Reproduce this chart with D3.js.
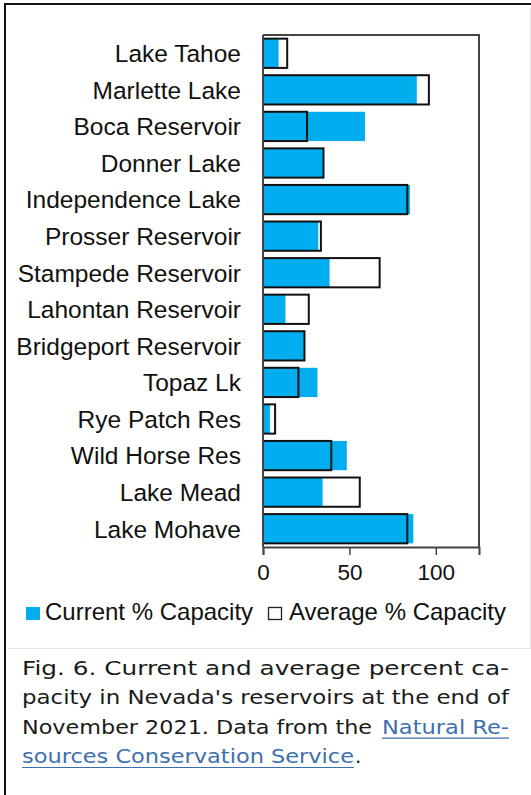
<!DOCTYPE html>
<html>
<head>
<meta charset="utf-8">
<script src="https://cdn.jsdelivr.net/npm/d3@7"></script>
<style>
  body { margin: 0; background: #fff; }
  svg { display: block; }
</style>
</head>
<body>
<svg width="531" height="795"></svg>
<script>
// reservoir data (% of capacity)
const reservoirs = ["Lake Tahoe", "Marlette Lake", "Boca Reservoir", "Donner Lake",
  "Independence Lake", "Prosser Reservoir", "Stampede Reservoir", "Lahontan Reservoir",
  "Bridgeport Reservoir", "Topaz Lk", "Rye Patch Res", "Wild Horse Res", "Lake Mead", "Lake Mohave"];
const currentPct = [9, 89, 59, 35, 85, 32, 38.5, 13, 24, 31.5, 4, 48.5, 34.5, 87];
const averagePct = [14, 96, 25.5, 35, 83.5, 33.5, 67.5, 26.5, 24, 20.5, 7, 39.5, 56, 83.5];
const xTicks = [0, 50, 100];
const legendLabels = ["Current % Capacity", "Average % Capacity"];

const captionLines = [
  "Fig. 6. Current and average percent ca-",
  "pacity in Nevada's reservoirs at the end of"
];

const svg = d3.select("svg");
const blue = "#00aeef";

// outer page border + chart image frame
svg.append("rect").attr("x", 5).attr("y", 4).attr("width", 540).attr("height", 810)
  .attr("fill", "none").attr("stroke", "#111").attr("stroke-width", 2);
svg.append("line").attr("x1", 8).attr("x2", 531).attr("y1", 648.5).attr("y2", 648.5)
  .attr("stroke", "#e4e4e4");
svg.append("line").attr("x1", 530.5).attr("x2", 530.5).attr("y1", 8).attr("y2", 648)
  .attr("stroke", "#e4e4e4");

const plot = { left: 263, right: 479, top: 35, bottom: 547 };

const x = d3.scaleLinear().domain([0, 125]).range([plot.left, plot.right]);
const y = d3.scaleBand().domain(reservoirs).range([plot.top, plot.bottom])
  .paddingInner(0.2).paddingOuter(0.1);

const rows = reservoirs.map((name, i) => ({ name, cur: currentPct[i], avg: averagePct[i] }));

// frame (top + right)
svg.append("path")
  .attr("d", `M${plot.left},${plot.top}H${plot.right}V${plot.bottom}`)
  .attr("fill", "none").attr("stroke", "#444").attr("stroke-width", 2);

// current bars
svg.append("g").selectAll("rect").data(rows).join("rect")
  .attr("x", x(0))
  .attr("y", d => y(d.name))
  .attr("width", d => x(d.cur) - x(0))
  .attr("height", y.bandwidth())
  .attr("fill", blue);

// average outlines drawn on top
svg.append("g").selectAll("rect").data(rows).join("rect")
  .attr("x", x(0))
  .attr("y", d => y(d.name))
  .attr("width", d => x(d.avg) - x(0))
  .attr("height", y.bandwidth())
  .attr("fill", "none")
  .attr("stroke", "#111")
  .attr("stroke-width", 2);

// category labels
svg.append("g").selectAll("text").data(rows).join("text")
  .attr("x", 241)
  .attr("y", d => y(d.name) + y.bandwidth() / 2)
  .attr("dy", "0.36em")
  .attr("text-anchor", "end")
  .attr("font-family", "Liberation Sans, Arial, sans-serif")
  .attr("font-size", 24.5)
  .attr("fill", "#111")
  .text(d => d.name);

// y axis line
svg.append("line").attr("x1", plot.left).attr("x2", plot.left)
  .attr("y1", plot.top).attr("y2", plot.bottom)
  .attr("stroke", "#444").attr("stroke-width", 2);

// x axis
const xAxis = svg.append("g")
  .attr("transform", `translate(0,${plot.bottom})`)
  .call(d3.axisBottom(x).tickValues(xTicks).tickSizeOuter(0).tickSize(8).tickPadding(9));
xAxis.select(".domain").attr("stroke", "#444").attr("stroke-width", 2);
xAxis.selectAll(".tick line").attr("stroke", "#444").attr("stroke-width", 1.5);
xAxis.selectAll(".tick text")
  .attr("font-family", "Liberation Sans, Arial, sans-serif")
  .attr("font-size", 22.5)
  .attr("fill", "#111");

// legend
const legend = svg.append("g").attr("font-family", "Liberation Sans, Arial, sans-serif")
  .attr("font-size", 24).attr("fill", "#111");
legend.append("rect").attr("x", 26).attr("y", 607).attr("width", 14).attr("height", 13)
  .attr("fill", blue);
legend.append("text").attr("x", 45).attr("y", 620).text(legendLabels[0]);
legend.append("rect").attr("x", 268.5).attr("y", 607.5).attr("width", 13).attr("height", 12)
  .attr("fill", "none").attr("stroke", "#222").attr("stroke-width", 1.3);
legend.append("text").attr("x", 289).attr("y", 620).text(legendLabels[1]);

// caption
const cap = svg.append("g").attr("font-family", "DejaVu Sans, sans-serif")
  .attr("font-size", 20).attr("fill", "#1a1a1a");
const capLeft = 22, capRight = 509;
const linkColor = "#3d6fb0";

function capText(t, x0, y0, len, color) {
  const el = cap.append("text").attr("x", x0).attr("y", y0).text(t);
  if (len) el.attr("textLength", len).attr("lengthAdjust", "spacingAndGlyphs");
  if (color) {
    el.attr("fill", color);
    cap.append("line").attr("x1", x0).attr("x2", x0 + len)
      .attr("y1", y0 + 4.5).attr("y2", y0 + 4.5)
      .attr("stroke", color).attr("stroke-width", 1.2);
  }
  return el;
}

captionLines.forEach((t, i) => capText(t, capLeft, 675 + i * 29.3, capRight - capLeft));
capText("November 2021. Data from the", capLeft, 733.6, 350);
capText("Natural Re-", 382, 733.6, 127, linkColor);
capText("sources Conservation Service", capLeft, 763, 332, linkColor);
capText(".", 355, 763);
</script>
</body>
</html>
